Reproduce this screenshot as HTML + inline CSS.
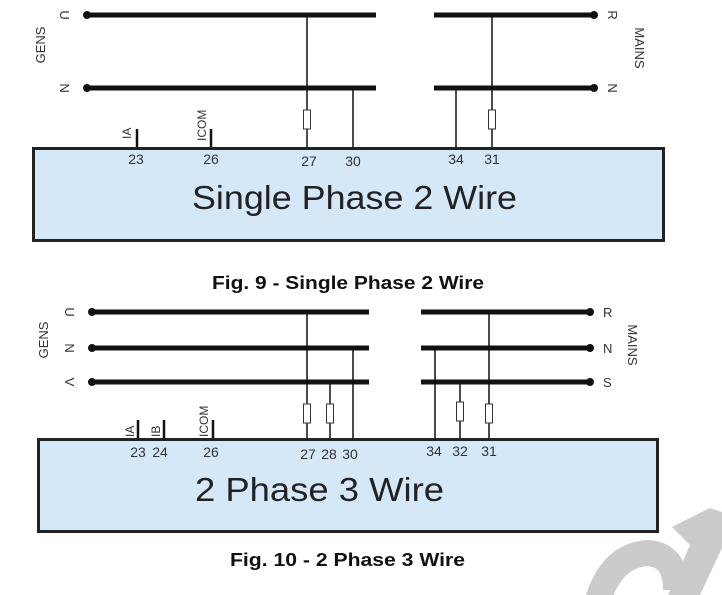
<!DOCTYPE html>
<html><head><style>body{margin:0;background:#fff}svg{display:block}</style></head><body>
<svg width="722" height="595" viewBox="0 0 722 595" xmlns="http://www.w3.org/2000/svg" font-family="Liberation Sans, sans-serif">
<!-- watermark -->
<g fill="none" stroke="#cbcbcb" stroke-width="26">
<path d="M598 600 Q612 555 648 553 Q676 555 676 590"/>
</g>
<polygon points="672,527 710,508 722,512 722,548 700,595 668,595 690,545" fill="#cbcbcb"/>
<!-- FIG 9 -->
<g stroke="#111" stroke-linecap="butt">
<line x1="87" y1="15" x2="376" y2="15" stroke-width="5"/>
<line x1="87" y1="88" x2="376" y2="88" stroke-width="5"/>
<line x1="434" y1="15" x2="594" y2="15" stroke-width="5"/>
<line x1="434" y1="88" x2="594" y2="88" stroke-width="5"/>
<line x1="307" y1="15" x2="307" y2="147" stroke-width="1.5"/>
<line x1="353" y1="88" x2="353" y2="147" stroke-width="1.5"/>
<line x1="456" y1="88" x2="456" y2="147" stroke-width="1.5"/>
<line x1="492" y1="15" x2="492" y2="147" stroke-width="1.5"/>
<line x1="137" y1="129" x2="137" y2="147" stroke-width="2.5"/>
<line x1="211" y1="129" x2="211" y2="147" stroke-width="2.5"/>
</g>
<g fill="#111"><circle cx="87" cy="15" r="4"/><circle cx="87" cy="88" r="4"/><circle cx="594" cy="15" r="4"/><circle cx="594" cy="88" r="4"/></g>
<g fill="#fff" stroke="#333" stroke-width="1"><rect x="303.5" y="110" width="7" height="19"/><rect x="488.5" y="110" width="7" height="19"/></g>
<rect x="33.5" y="148.5" width="630" height="92" fill="#d5e8f8" stroke="#222" stroke-width="3"/>
<text x="192" y="209" font-size="33" textLength="325" lengthAdjust="spacingAndGlyphs" fill="#222">Single Phase 2 Wire</text>
<g font-size="14" fill="#333" text-anchor="middle">
<text x="136" y="164">23</text><text x="211" y="164">26</text><text x="309" y="166">27</text><text x="353" y="166">30</text><text x="456" y="164">34</text><text x="492" y="164">31</text>
</g>
<g font-size="13" fill="#333">
<text transform="translate(60,15) rotate(90)" text-anchor="middle">U</text>
<text transform="translate(60,88) rotate(90)" text-anchor="middle">N</text>
<text transform="translate(45,45) rotate(-90)" text-anchor="middle">GENS</text>
<text transform="translate(608,15) rotate(90)" text-anchor="middle">R</text>
<text transform="translate(608,88) rotate(90)" text-anchor="middle">N</text>
<text transform="translate(635,48) rotate(90)" text-anchor="middle">MAINS</text>
<text transform="translate(131,139) rotate(-90)" font-size="12">IA</text>
<text transform="translate(206,141) rotate(-90)" font-size="12">ICOM</text>
</g>
<text x="212" y="289" font-size="18" font-weight="bold" textLength="272" lengthAdjust="spacingAndGlyphs" fill="#111">Fig. 9 - Single Phase 2 Wire</text>
<!-- FIG 10 -->
<g stroke="#111">
<line x1="92" y1="312" x2="369" y2="312" stroke-width="5"/>
<line x1="92" y1="348" x2="369" y2="348" stroke-width="5"/>
<line x1="92" y1="382" x2="369" y2="382" stroke-width="5"/>
<line x1="421" y1="312" x2="590" y2="312" stroke-width="5"/>
<line x1="421" y1="348" x2="590" y2="348" stroke-width="5"/>
<line x1="421" y1="382" x2="590" y2="382" stroke-width="5"/>
<line x1="307" y1="312" x2="307" y2="439" stroke-width="1.5"/>
<line x1="330" y1="382" x2="330" y2="439" stroke-width="1.5"/>
<line x1="353" y1="348" x2="353" y2="439" stroke-width="1.5"/>
<line x1="435" y1="348" x2="435" y2="439" stroke-width="1.5"/>
<line x1="460" y1="382" x2="460" y2="439" stroke-width="1.5"/>
<line x1="489" y1="312" x2="489" y2="439" stroke-width="1.5"/>
<line x1="138" y1="420" x2="138" y2="439" stroke-width="2.5"/>
<line x1="164" y1="420" x2="164" y2="439" stroke-width="2.5"/>
<line x1="213" y1="420" x2="213" y2="439" stroke-width="2.5"/>
</g>
<g fill="#111"><circle cx="92" cy="312" r="4"/><circle cx="92" cy="348" r="4"/><circle cx="92" cy="382" r="4"/><circle cx="590" cy="312" r="4"/><circle cx="590" cy="348" r="4"/><circle cx="590" cy="382" r="4"/></g>
<g fill="#fff" stroke="#333" stroke-width="1"><rect x="303.5" y="404" width="7" height="19"/><rect x="326.5" y="404" width="7" height="19"/><rect x="456.5" y="402" width="7" height="19"/><rect x="485.5" y="404" width="7" height="19"/></g>
<rect x="38.5" y="439.5" width="619" height="92" fill="#d5e8f8" stroke="#222" stroke-width="3"/>
<text x="195" y="501" font-size="33" textLength="249" lengthAdjust="spacingAndGlyphs" fill="#222">2 Phase 3 Wire</text>
<g font-size="14" fill="#333" text-anchor="middle">
<text x="138" y="457">23</text><text x="160" y="457">24</text><text x="211" y="457">26</text><text x="308" y="459">27</text><text x="329" y="459">28</text><text x="350" y="459">30</text><text x="434" y="456">34</text><text x="460" y="456">32</text><text x="489" y="456">31</text>
</g>
<g font-size="13" fill="#333">
<text transform="translate(65,312) rotate(90)" text-anchor="middle">U</text>
<text transform="translate(65,348) rotate(90)" text-anchor="middle">N</text>
<text transform="translate(65,382) rotate(90)" text-anchor="middle">V</text>
<text transform="translate(48,340) rotate(-90)" text-anchor="middle">GENS</text>
<text x="603" y="317">R</text>
<text x="603" y="353">N</text>
<text x="603" y="387">S</text>
<text transform="translate(628,345) rotate(90)" text-anchor="middle">MAINS</text>
<text transform="translate(134,437) rotate(-90)" font-size="12">IA</text>
<text transform="translate(160,437) rotate(-90)" font-size="12">IB</text>
<text transform="translate(208,437) rotate(-90)" font-size="12">ICOM</text>
</g>
<text x="230" y="566" font-size="18" font-weight="bold" textLength="235" lengthAdjust="spacingAndGlyphs" fill="#111">Fig. 10 - 2 Phase 3 Wire</text>
</svg>
</body></html>
